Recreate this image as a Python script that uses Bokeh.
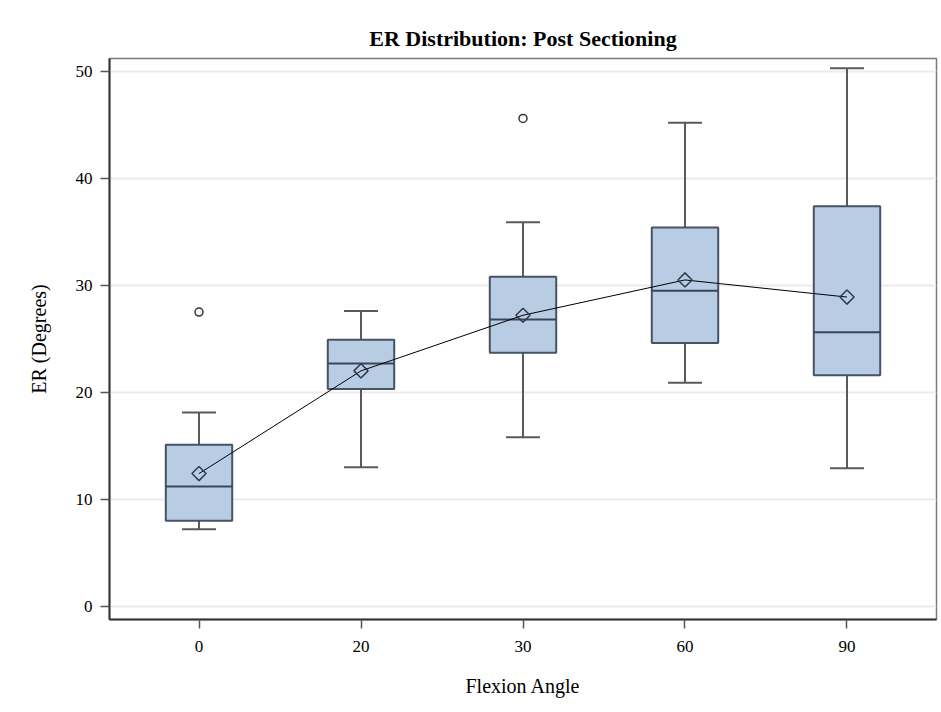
import math
from bokeh.plotting import figure
from bokeh.models import FactorRange, Range1d, ColumnDataSource, FixedTicker
from bokeh.transform import dodge
from bokeh.embed import file_html
from bokeh.resources import INLINE

# ---- data ----
angles = ["0", "20", "30", "60", "90"]
whisker_low = [7.2, 13.0, 15.8, 20.9, 12.9]
q1 = [8.0, 20.3, 23.7, 24.6, 21.6]
median = [11.2, 22.7, 26.8, 29.5, 25.6]
q3 = [15.1, 24.9, 30.8, 35.4, 37.4]
whisker_high = [18.1, 27.6, 35.9, 45.2, 50.3]
mean = [12.4, 22.0, 27.2, 30.5, 28.9]
outlier_angles = ["0", "30"]
outlier_values = [27.5, 45.6]
y_ticks = [0, 10, 20, 30, 40, 50]

SERIF = "Liberation Serif"
BOX_W = 0.41
CAP_W = 0.21

src = ColumnDataSource(dict(angle=angles, lo=whisker_low, q1=q1, med=median,
                            q3=q3, hi=whisker_high, mean=mean))
out_src = ColumnDataSource(dict(angle=outlier_angles, val=outlier_values))

p = figure(width=941, height=712,
           x_range=FactorRange(*angles, range_padding=0.021),
           y_range=Range1d(-1.24, 51.2),
           output_backend="svg", toolbar_location=None,
           min_border_left=109, min_border_right=5,
           min_border_top=58, min_border_bottom=93,
           background_fill_color="white", border_fill_color="white")

p.title.text = "ER Distribution: Post Sectioning"
p.title.align = "center"
p.title.text_font = SERIF
p.title.text_font_size = "22px"
p.title.text_font_style = "bold"
p.title.text_color = "black"
p.title.standoff = 16

# whiskers
wcol = "#5a5a5a"
p.segment(x0="angle", y0="lo", x1="angle", y1="q1", source=src, line_color=wcol, line_width=2)
p.segment(x0="angle", y0="q3", x1="angle", y1="hi", source=src, line_color=wcol, line_width=2)
p.segment(x0=dodge("angle", -CAP_W / 2, range=p.x_range), y0="lo",
          x1=dodge("angle", CAP_W / 2, range=p.x_range), y1="lo",
          source=src, line_color=wcol, line_width=2)
p.segment(x0=dodge("angle", -CAP_W / 2, range=p.x_range), y0="hi",
          x1=dodge("angle", CAP_W / 2, range=p.x_range), y1="hi",
          source=src, line_color=wcol, line_width=2)

# boxes
p.vbar(x="angle", width=BOX_W, bottom="q1", top="q3", source=src,
       fill_color="#b8cce4", line_color="#465366", line_width=2)
p.segment(x0=dodge("angle", -BOX_W / 2, range=p.x_range), y0="med",
          x1=dodge("angle", BOX_W / 2, range=p.x_range), y1="med",
          source=src, line_color="#3a4658", line_width=2)

# mean line and markers
p.line(x="angle", y="mean", source=src, line_color="black", line_width=1)
p.scatter(x="angle", y="mean", source=src, marker="square", angle=math.pi / 4,
          size=10, fill_color=None, line_color="#2e3b4e", line_width=1.5)

# outliers
p.scatter(x="angle", y="val", source=out_src, marker="circle", size=8,
          fill_color=None, line_color="#333333", line_width=1.5)

# axes
p.xaxis.axis_label = "Flexion Angle"
p.yaxis.axis_label = "ER (Degrees)"
p.yaxis.ticker = FixedTicker(ticks=y_ticks)
for ax in (p.xaxis[0], p.yaxis[0]):
    ax.axis_label_text_font = SERIF
    ax.axis_label_text_font_size = "20px"
    ax.axis_label_text_font_style = "normal"
    ax.axis_label_text_color = "black"
    ax.major_label_text_font = SERIF
    ax.major_label_text_font_size = "17px"
    ax.major_label_text_color = "black"
    ax.axis_line_color = "#333333"
    ax.axis_line_width = 2
    ax.major_tick_line_color = "#555555"
    ax.major_tick_line_width = 1.5
    ax.major_tick_out = 9
    ax.major_tick_in = 0
    ax.minor_tick_line_color = None
p.yaxis.major_label_standoff = 8
p.xaxis.major_label_standoff = 12
p.xaxis.axis_label_standoff = 20
p.yaxis.axis_label_standoff = 23

p.xgrid.grid_line_color = None
p.ygrid.grid_line_color = "#ebebeb"
p.ygrid.grid_line_width = 2
p.outline_line_color = "#7a7a7a"
p.outline_line_width = 1.5

open("out.html", "w").write(file_html(p, INLINE))
